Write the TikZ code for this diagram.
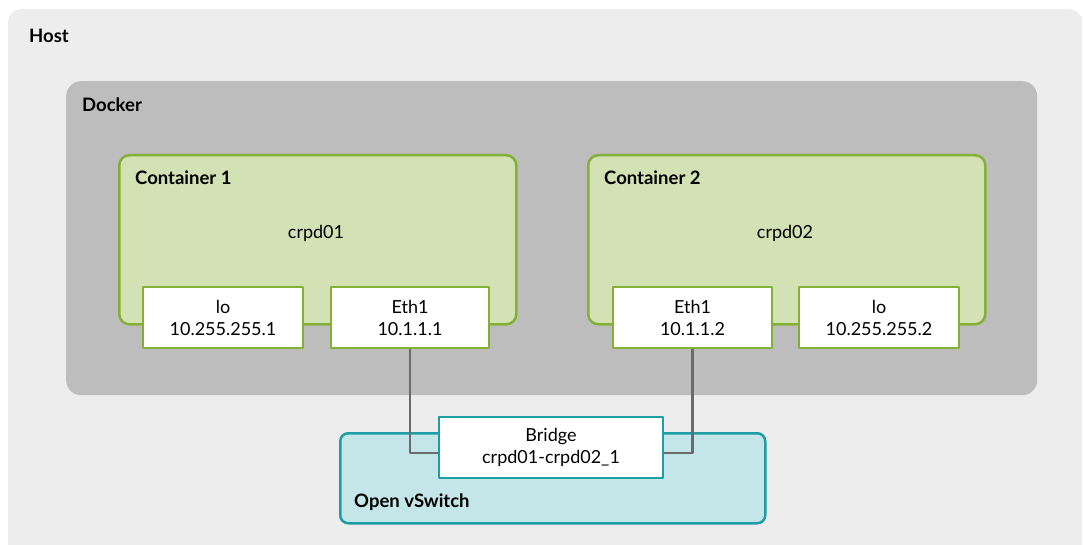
\documentclass[tikz,border=0pt]{standalone}
\usepackage{fontspec}
\setmainfont{Lato}

\begin{document}
\begin{tikzpicture}
		[x=1pt,y=-1pt,line join=round,
		%Styles
		area/.style={rectangle,inner sep=0pt,anchor=north west},
		title/.style={anchor=west,inner sep=0pt,font=\fontsize{18.5}{21}\selectfont\bfseries},
		plain text/.style={inner sep=0pt,font=\fontsize{18}{21}\selectfont},
		port/.style={rectangle,draw=#1,line width=2pt,fill=white,minimum height=61pt,
			align=center,inner sep=0pt,font=\fontsize{18}{22}\selectfont},
		link/.style={draw=linkgray,line width=2.5pt}
		]
		
		%Colors
		\definecolor{hostgray}{HTML}{EDEDED}
		\definecolor{dockergray}{HTML}{BDBDBD}
		\definecolor{contfill}{HTML}{D2E2B4}
		\definecolor{contline}{HTML}{84B135}
		\definecolor{ovsfill}{HTML}{C5E6E8}
		\definecolor{ovsline}{HTML}{1E9DA5}
		\definecolor{linkgray}{HTML}{6B6B6B}
		
		\useasboundingbox (0,0) rectangle (1084,545);
		
		%The graphic
		
		\node[area,fill=hostgray,rounded corners=12pt,minimum width=1074pt,minimum height=560pt] (host) at (8,9) {};
		\node[title] (hostT) at (29,36) {Host};
		
		\node[area,fill=dockergray,rounded corners=15pt,minimum width=971pt,minimum height=314pt] (docker) at (66,81) {};
		\node[title] (dockerT) at (82,105) {Docker};
		
		\node[area,fill=contfill,draw=contline,line width=2.5pt,rounded corners=10pt,minimum width=397pt,minimum height=169pt] (C1) at (118,154) {};
		\node[title] (C1T) at (135,178) {Container 1};
		\node[plain text] (crpd01) at (316,233) {crpd01};
		
		\node[area,fill=contfill,draw=contline,line width=2.5pt,rounded corners=10pt,minimum width=397pt,minimum height=169pt] (C2) at (587,154) {};
		\node[title] (C2T) at (604,178) {Container 2};
		\node[plain text] (crpd02) at (785,233) {crpd02};
		
		\node[port=contline,minimum width=160pt] (lo1) at (223,317.5) {lo\\10.255.255.1};
		\node[port=contline,minimum width=158pt] (eth1) at (410,317.5) {Eth1\\10.1.1.1};
		\node[port=contline,minimum width=159pt] (eth2) at (692.5,317.5) {Eth1\\10.1.1.2};
		\node[port=contline,minimum width=160pt] (lo2) at (879,317.5) {lo\\10.255.255.2};
		
		\node[area,fill=ovsfill,draw=ovsline,line width=2.5pt,rounded corners=8pt,minimum width=425pt,minimum height=90pt] (ovs) at (339,432) {};
		\node[title] (ovsT) at (354,502) {Open vSwitch};
		
		\node[port=ovsline,minimum width=224pt] (bridge) at (551,447.5) {Bridge\\crpd01-crpd02\_1};
		
		\path[link]
			(eth1.south)	|-	([yshift=-5.5pt]bridge.west)
			(eth2.south)	|-	([yshift=-5.5pt]bridge.east);
	\end{tikzpicture}
\end{document}
